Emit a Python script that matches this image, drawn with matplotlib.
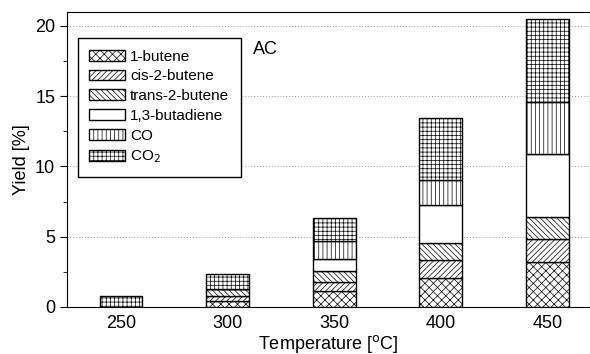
import matplotlib
matplotlib.use("Agg")
import matplotlib.pyplot as plt
import numpy as np
from matplotlib.ticker import MultipleLocator

plt.rcParams['font.family'] = ['Liberation Sans', 'DejaVu Sans']
plt.rcParams['hatch.linewidth'] = 0.5

temps = ['250', '300', '350', '400', '450']
butene1 = [0.0, 0.40, 1.16, 2.09, 3.22]
cis2 = [0.0, 0.40, 0.64, 1.23, 1.60]
trans2 = [0.0, 0.48, 0.76, 1.24, 1.56]
butadiene = [0.0, 0.0, 0.83, 2.68, 4.51]
co = [0.0, 0.0, 1.33, 1.80, 3.68]
co2 = [0.75, 1.07, 1.59, 4.44, 5.91]

series = [
    ('1-butene', butene1, 'xxxx'),
    ('cis-2-butene', cis2, '//////'),
    ('trans-2-butene', trans2, '\\\\\\\\\\\\'),
    ('1,3-butadiene', butadiene, ''),
    ('CO', co, '||||'),
    ('CO$_2$', co2, '++++'),
]

fig = plt.figure(figsize=(5.9, 3.54), dpi=100)
ax = fig.add_axes([0.1136, 0.1328, 0.8864, 0.832])

x = np.arange(len(temps))
bottom = np.zeros(len(temps))
for name, vals, hatch in series:
    v = np.array(vals)
    ax.bar(x, v, 0.4, bottom=bottom, color='white', edgecolor='black',
           hatch=hatch, linewidth=1.0, label=name, zorder=3)
    bottom += v

ax.set_xlim(-0.507, 4.40)
ax.set_ylim(0, 20.96)
ax.set_xticks(x)
ax.set_xticklabels(temps, fontsize=13)
ax.tick_params(axis='x', length=0, pad=6)
ax.yaxis.set_major_locator(MultipleLocator(5))
ax.yaxis.set_minor_locator(MultipleLocator(2.5))
ax.tick_params(axis='y', which='major', direction='out', length=5, labelsize=13)
ax.tick_params(axis='y', which='minor', direction='out', length=3)
ax.grid(axis='y', which='major', linestyle=(0, (1, 2)), color='#999999', linewidth=0.7, zorder=0)
ax.set_xlabel('Temperature [$^\\mathrm{o}$C]', fontsize=13, labelpad=0.5)
ax.set_ylabel('Yield [%]', fontsize=13, labelpad=4)

leg = ax.legend(loc='upper left', bbox_to_anchor=(0.021, 0.913), fontsize=11,
                frameon=True, fancybox=False, edgecolor='black', framealpha=1,
                handlelength=2.35, handleheight=0.7, labelspacing=0.38,
                handletextpad=0.3, borderpad=0.75, borderaxespad=0)
leg.get_frame().set_linewidth(1.0)

ax.text(0.356, 0.86, 'AC', transform=ax.transAxes, fontsize=13)

fig.savefig('out.png', dpi=100)
